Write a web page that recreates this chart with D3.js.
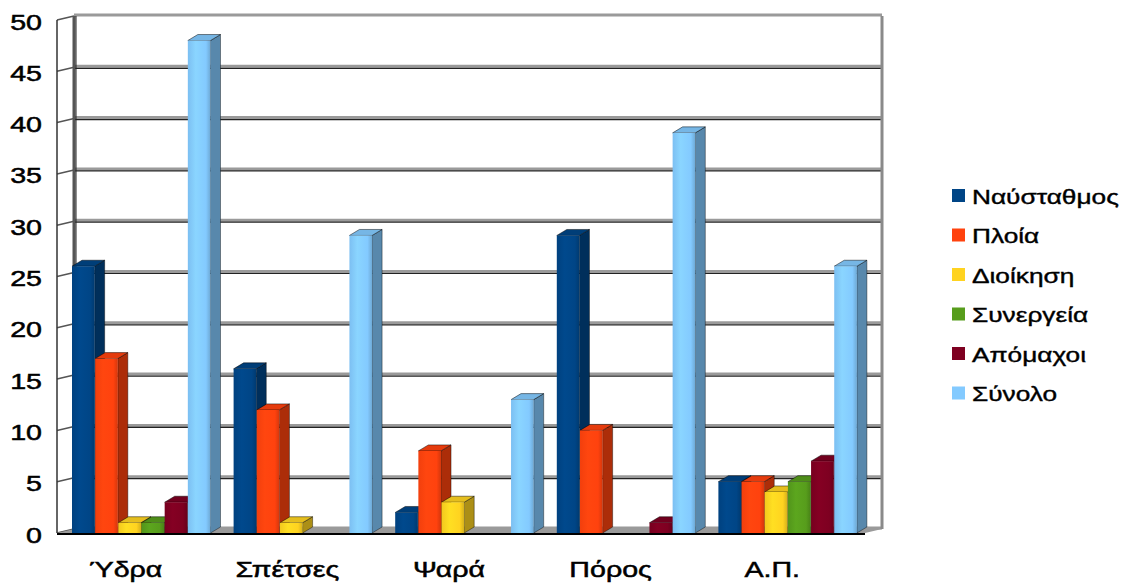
<!DOCTYPE html>
<html>
<head>
<meta charset="utf-8">
<script src="https://cdn.jsdelivr.net/npm/d3@7"></script>
<style>
  body { margin: 0; background: #fff; }
  text { font-family: "Liberation Sans", Arial, sans-serif; fill: #000; }
</style>
</head>
<body>
<svg id="chart" width="1123" height="584"></svg>
<script>
// data
const categories = ['Ύδρα', 'Σπέτσες', 'Ψαρά', 'Πόρος', 'Α.Π.'];
const series = ['Ναύσταθμος', 'Πλοία', 'Διοίκηση', 'Συνεργεία', 'Απόμαχοι', 'Σύνολο'];
const nafstathmos = [26, 16, 2, 29, 5];
const ploia = [17, 12, 8, 10, 5];
const dioikisi = [1, 1, 3, 0, 4];
const synergeia = [1, 0, 0, 0, 5];
const apomaxoi = [3, 0, 0, 1, 7];
const synolo = [48, 29, 13, 39, 26];
const yTicks = [0, 5, 10, 15, 20, 25, 30, 35, 40, 45, 50];

const values = [nafstathmos, ploia, dioikisi, synergeia, apomaxoi, synolo];
const colors = ['#004586', '#ff420e', '#ffd320', '#579d1c', '#7e0021', '#83caff'];

const svg = d3.select('#chart');

// depth of the 3D box: front = back + (DX, DY)
const DX = -17, DY = 4;
const SIDE = 10, CAP = 6;
// text in the picture is stretched sideways
const STRETCH = 'scale(1.3,1)';

const y = d3.scaleLinear().domain([0, 50]).range([529, 16]);
const x0 = d3.scaleBand().domain(categories).range([60, 868]);
const x1 = d3.scaleBand().domain(series).range([0, 139]);

const backLeft = 74, backRight = 882;

// gradients for the fronts
const defs = svg.append('defs');
colors.forEach((c, i) => {
    const g = defs.append('linearGradient').attr('id', 'g' + i);
    g.append('stop').attr('offset', '0%').attr('stop-color', d3.color(c).darker(0.15));
    g.append('stop').attr('offset', '35%').attr('stop-color', d3.color(c).brighter(0.15));
    g.append('stop').attr('offset', '80%').attr('stop-color', c);
    g.append('stop').attr('offset', '100%').attr('stop-color', d3.color(c).darker(0.5));
});

// walls
const walls = svg.append('g');

// back wall gridlines
yTicks.forEach(t => {
    walls.append('line')
        .attr('x1', backLeft).attr('x2', backRight)
        .attr('y1', y(t) - 1).attr('y2', y(t) - 1)
        .attr('stroke', '#9a9a9a').attr('stroke-width', 3);
    if (t > 0 && t < 50) {
        walls.append('line')
            .attr('x1', backLeft).attr('x2', backRight)
            .attr('y1', y(t) + 1).attr('y2', y(t) + 1)
            .attr('stroke', '#222').attr('stroke-width', 1.2);
    }
    // side wall
    walls.append('line')
        .attr('x1', backLeft + DX).attr('x2', backLeft)
        .attr('y1', y(t) + DY).attr('y2', y(t))
        .attr('stroke', '#555').attr('stroke-width', 1.5);
});

// left wall edges
walls.append('line')
    .attr('x1', backLeft + DX).attr('x2', backLeft + DX)
    .attr('y1', y(50) + DY).attr('y2', y(0) + DY)
    .attr('stroke', '#333').attr('stroke-width', 1.5);
walls.append('line')
    .attr('x1', backLeft).attr('x2', backLeft)
    .attr('y1', y(50)).attr('y2', y(0))
    .attr('stroke', '#555').attr('stroke-width', 3);
walls.append('line')
    .attr('x1', backLeft + 2).attr('x2', backLeft + 2)
    .attr('y1', y(50)).attr('y2', y(0))
    .attr('stroke', '#222').attr('stroke-width', 1);
// right wall edge
walls.append('line')
    .attr('x1', backRight).attr('x2', backRight)
    .attr('y1', y(50)).attr('y2', y(0))
    .attr('stroke', '#8a8a8a').attr('stroke-width', 3);

// floor
walls.append('path')
    .attr('d', `M${backLeft + DX},${y(0) + DY} L${backLeft},${y(0)} L${backRight},${y(0)} L${backRight + DX},${y(0) + DY} Z`)
    .attr('fill', '#9a9a9a');
walls.append('line')
    .attr('x1', backLeft + DX).attr('x2', backRight + DX)
    .attr('y1', y(0) + DY + 1).attr('y2', y(0) + DY + 1)
    .attr('stroke', '#000').attr('stroke-width', 2);

// bars
const bars = svg.append('g');
categories.forEach((c, ci) => {
    series.forEach((s, si) => {
        const v = values[si][ci];
        if (v <= 0) return;
        const xl = x0(c) + 12 + x1(s);
        const w = x1.bandwidth() - 0.5;
        const xr = xl + w;
        const top = y(v) + DY;
        const base = y(0) + DY;
        const col = d3.color(colors[si]);
        const g = bars.append('g');
        // side face
        g.append('path')
            .attr('d', `M${xr},${top} L${xr + SIDE},${top - CAP} L${xr + SIDE},${base - CAP} L${xr},${base} Z`)
            .attr('fill', col.darker(1.1))
            .attr('stroke', '#000').attr('stroke-opacity', 0.5).attr('stroke-width', 0.8);
        // top cap
        g.append('path')
            .attr('d', `M${xl},${top} L${xl + SIDE},${top - CAP} L${xr + SIDE},${top - CAP} L${xr},${top} Z`)
            .attr('fill', col.darker(0.3))
            .attr('stroke', '#000').attr('stroke-opacity', 0.6).attr('stroke-width', 0.8);
        // front
        g.append('rect')
            .attr('x', xl).attr('y', top)
            .attr('width', w).attr('height', base - top)
            .attr('fill', `url(#g${si})`);
    });
});

// y axis labels
const yAxis = d3.axisLeft(y).tickValues(yTicks).tickSize(0).tickPadding(0);
svg.append('g')
    .attr('transform', `translate(42,${DY + 2})`)
    .call(yAxis)
    .call(g => g.select('.domain').remove())
    .selectAll('text')
    .attr('font-size', 22)
    .attr('font-family', '"Liberation Sans", Arial, sans-serif')
    .attr('fill', '#000')
    .attr('stroke', '#000').attr('stroke-width', 0.5)
    .attr('transform', STRETCH);

// category labels
const xAxis = d3.axisBottom(x0).tickSize(0).tickPadding(0);
svg.append('g')
    .attr('transform', `translate(-15,561)`)
    .call(xAxis)
    .call(g => g.select('.domain').remove())
    .selectAll('text')
    .attr('font-size', 22)
    .attr('font-family', '"Liberation Sans", Arial, sans-serif')
    .attr('fill', '#000')
    .attr('stroke', '#000').attr('stroke-width', 0.5)
    .attr('transform', STRETCH);

// legend
const legend = svg.append('g').attr('transform', 'translate(952,196)');
series.forEach((s, i) => {
    const row = legend.append('g').attr('transform', `translate(0,${i * 39.5})`);
    row.append('rect')
        .attr('x', 0).attr('y', -7)
        .attr('width', 13).attr('height', 13)
        .attr('fill', colors[i]);
    row.append('text')
        .attr('x', 20).attr('y', 0)
        .attr('dy', '0.36em')
        .attr('font-size', 21)
        .attr('stroke', '#000').attr('stroke-width', 0.4)
        .attr('transform', 'translate(20,0) scale(1.25,1) translate(-20,0)')
        .text(s);
});
</script>
</body>
</html>
